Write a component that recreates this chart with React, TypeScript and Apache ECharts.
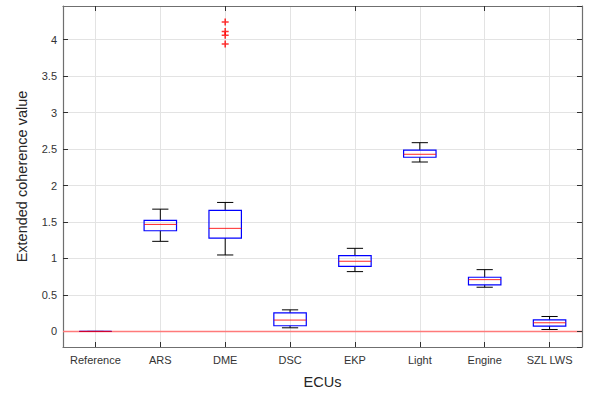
import React, { useEffect, useRef } from "react";
import * as echarts from "echarts";

const categories = ["Reference", "ARS", "DME", "DSC", "EKP", "Light", "Engine", "SZL LWS"];
const whiskerLow = [0, 1.235, 1.048, 0.05, 0.82, 2.322, 0.606, 0.027];
const q1 = [0, 1.38, 1.28, 0.078, 0.893, 2.387, 0.638, 0.074];
const median = [0, 1.467, 1.413, 0.156, 0.962, 2.428, 0.71, 0.119];
const q3 = [0, 1.522, 1.658, 0.255, 1.038, 2.486, 0.743, 0.16];
const whiskerHigh = [0, 1.676, 1.768, 0.296, 1.139, 2.587, 0.847, 0.205];
const outlierCategory = ["DME", "DME", "DME", "DME"];
const outlierValues = [4.24, 4.11, 4.06, 3.94];
const referenceLevel = 0;

const Y_MIN = -0.213;
const Y_MAX = 4.46;
const FONT = "'Liberation Sans', Arial, sans-serif";

export default function App() {
  const ref = useRef<HTMLDivElement>(null);
  useEffect(() => {
    if (!ref.current) return;
    const chart = echarts.init(ref.current, undefined, { renderer: "svg" });
    const boxData = categories.map((_, i) => [i, whiskerLow[i], q1[i], median[i], q3[i], whiskerHigh[i]]);
    const outlierData = outlierValues.map((v, i) => [categories.indexOf(outlierCategory[i]), v]);

    const axisLineStyle = { color: "#6f6f6f", width: 1.2 };
    const tickStyle = { color: "#303030", width: 1 };
    const gridLine = { color: "#e3e3e3", width: 1 };

    chart.setOption({
      animation: false,
      backgroundColor: "#ffffff",
      textStyle: { fontFamily: FONT },
      grid: { left: 63, right: 12, top: 6, bottom: 46, containLabel: false },
      xAxis: [
        {
          type: "category",
          data: categories,
          position: "bottom",
          name: "ECUs",
          nameLocation: "middle",
          nameGap: 27,
          nameTextStyle: { fontSize: 14.5, color: "#262626", fontFamily: FONT },
          axisLine: { show: true, onZero: false, lineStyle: axisLineStyle },
          axisTick: { show: true, inside: true, alignWithLabel: true, length: 5, lineStyle: tickStyle },
          axisLabel: { fontSize: 11, color: "#333333", margin: 7, fontFamily: FONT, interval: 0 },
          splitLine: { show: false },
          z: 5,
        },
        {
          type: "category",
          data: categories,
          position: "top",
          axisLine: { show: true, onZero: false, lineStyle: axisLineStyle },
          axisTick: { show: true, inside: true, alignWithLabel: true, length: 5, lineStyle: tickStyle },
          axisLabel: { show: false },
          splitLine: { show: false },
          z: 5,
        },
        {
          type: "value",
          min: -0.5,
          max: categories.length - 0.5,
          splitNumber: categories.length,
          position: "bottom",
          axisLine: { show: false, onZero: false },
          axisTick: { show: false },
          axisLabel: { show: false },
          splitLine: { show: true, lineStyle: gridLine },
          z: 0,
        },
      ],
      yAxis: [
        {
          type: "value",
          min: Y_MIN,
          max: Y_MAX,
          splitNumber: 9,
          position: "left",
          name: "Extended coherence value",
          nameLocation: "middle",
          nameGap: 34,
          nameTextStyle: { fontSize: 14.5, color: "#262626", fontFamily: FONT },
          axisLine: { show: true, onZero: false, lineStyle: axisLineStyle },
          axisTick: { show: true, inside: true, length: 5, lineStyle: tickStyle },
          axisLabel: { fontSize: 11, color: "#333333", margin: 6, fontFamily: FONT, showMinLabel: false, showMaxLabel: false },
          splitLine: { show: true, lineStyle: gridLine },
          z: 1,
        },
        {
          type: "value",
          min: Y_MIN,
          max: Y_MAX,
          splitNumber: 9,
          position: "right",
          axisLine: { show: true, onZero: false, lineStyle: axisLineStyle },
          axisTick: { show: true, inside: true, length: 5, lineStyle: tickStyle },
          axisLabel: { show: false },
          splitLine: { show: false },
          z: 5,
        },
      ],
      series: [
        {
          type: "custom",
          xAxisIndex: 0,
          yAxisIndex: 0,
          encode: { x: 0, y: [1, 2, 3, 4, 5] },
          data: boxData,
          z: 3,
          clip: false,
          renderItem: (params: any, api: any) => {
            const idx = api.value(0);
            const pLo = api.coord([idx, api.value(1)]);
            const pQ1 = api.coord([idx, api.value(2)]);
            const pMed = api.coord([idx, api.value(3)]);
            const pQ3 = api.coord([idx, api.value(4)]);
            const pHi = api.coord([idx, api.value(5)]);
            const bw = api.size([1, 0])[0];
            const x = pMed[0];
            const half = bw * 0.25;
            const cap = bw * 0.125;
            const black = { stroke: "#000000", lineWidth: 1, fill: null };
            const children: any[] = [];
            if (params.dataIndex === 0) {
              const cs = params.coordSys;
              const yRef = api.coord([idx, referenceLevel])[1];
              children.push({
                type: "line",
                shape: { x1: cs.x, y1: yRef, x2: cs.x + cs.width, y2: yRef },
                style: { stroke: "#ff7a7a", lineWidth: 1.5 },
                z2: -1,
              });
            }
            children.push(
              { type: "line", shape: { x1: x, y1: pHi[1], x2: x, y2: pQ3[1] }, style: black },
              { type: "line", shape: { x1: x, y1: pLo[1], x2: x, y2: pQ1[1] }, style: black },
              { type: "line", shape: { x1: x - cap, y1: pHi[1], x2: x + cap, y2: pHi[1] }, style: black },
              { type: "line", shape: { x1: x - cap, y1: pLo[1], x2: x + cap, y2: pLo[1] }, style: black },
              {
                type: "rect",
                shape: { x: x - half, y: pQ3[1], width: half * 2, height: pQ1[1] - pQ3[1] },
                style: { stroke: "#0000ff", lineWidth: 1.2, fill: "none" },
              },
              {
                type: "line",
                shape: { x1: x - half, y1: pMed[1], x2: x + half, y2: pMed[1] },
                style: { stroke: "#ff0000", lineWidth: 1, opacity: 0.85 },
              }
            );
            return { type: "group", children };
          },
        },
        {
          type: "scatter",
          xAxisIndex: 0,
          yAxisIndex: 0,
          data: outlierData,
          symbol: "path://M3.5,0L3.5,7M0,3.5L7,3.5",
          symbolSize: 7,
          itemStyle: { color: "none", borderColor: "#ff0000", borderWidth: 1.6 },
          z: 4,
        },
      ],
    });
    return () => chart.dispose();
  }, []);
  return <div ref={ref} style={{ position: "fixed", left: 0, top: 0, width: 594, height: 394 }} />;
}
